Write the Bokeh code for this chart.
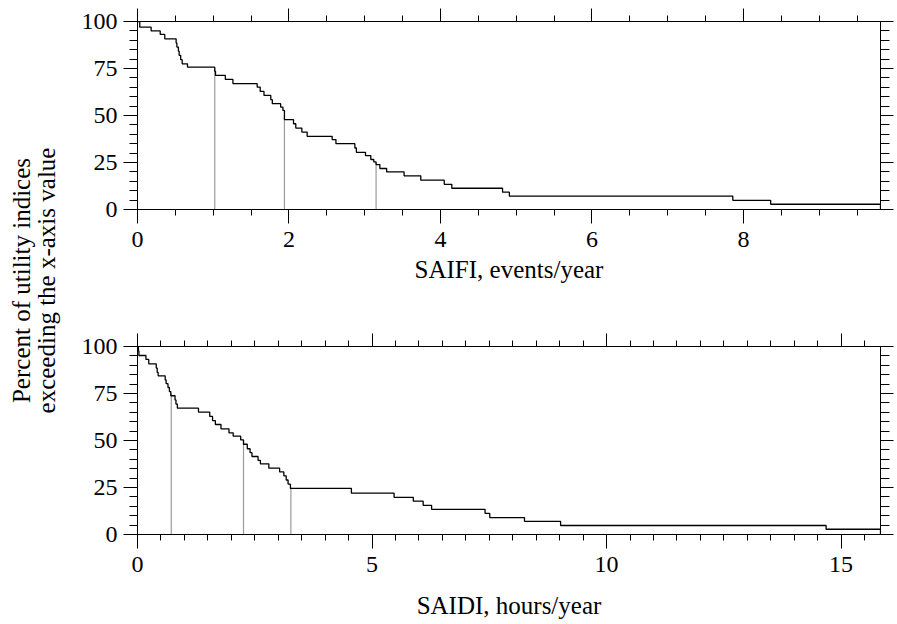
from bokeh.plotting import figure
from bokeh.layouts import row, column
from bokeh.models import Range1d, LinearAxis, SingleIntervalTicker, Label
from bokeh.embed import file_html
from bokeh.resources import INLINE

# ---------------- data ----------------
saifi_x = [0.00, 0.03, 0.18, 0.30, 0.36, 0.51, 0.52, 0.54, 0.55, 0.57,
           0.59, 0.66, 1.02, 1.03, 1.16, 1.26, 1.58, 1.62, 1.67, 1.76,
           1.78, 1.89, 1.92, 1.94, 2.06, 2.09, 2.17, 2.24, 2.57, 2.62,
           2.87, 2.89, 3.01, 3.08, 3.12, 3.15, 3.20, 3.29, 3.52, 3.74,
           4.05, 4.15, 4.82, 4.91, 7.86, 8.36, 9.81]
saifi_pct = [100, 97.0, 95.0, 93.1, 90.8, 88.6, 86.4, 84.2, 82.0, 79.7,
             77.5, 75.7, 73.5, 71.3, 69.2, 67.0, 65.1, 62.8, 60.7, 58.4,
             56.3, 54.5, 52.7, 47.8, 45.6, 43.3, 41.2, 38.9, 37.2, 35.0,
             32.7, 30.4, 28.7, 26.6, 25.3, 23.9, 21.8, 20.0, 17.9, 15.6,
             13.4, 11.3, 9.2, 7.1, 4.9, 2.8, 0]
saifi_quart_x = [1.02, 1.94, 3.15]

saidi_x = [0.00, 0.02, 0.03, 0.18, 0.24, 0.40, 0.42, 0.44, 0.59, 0.61,
           0.65, 0.68, 0.71, 0.80, 0.82, 0.85, 1.30, 1.54, 1.60, 1.66,
           1.78, 1.95, 2.04, 2.20, 2.26, 2.34, 2.40, 2.44, 2.57, 2.62,
           2.80, 3.03, 3.12, 3.17, 3.21, 3.26, 4.56, 5.47, 5.88, 6.09,
           6.27, 7.41, 7.51, 8.25, 9.02, 14.68, 15.84]
saidi_pct = [100, 97.6, 95.2, 93.1, 90.8, 88.5, 86.2, 84.4, 82.3, 80.2,
             78.2, 76.0, 73.8, 71.6, 69.4, 67.2, 65.1, 62.8, 60.6, 58.5,
             56.2, 54.1, 52.3, 50.3, 48.0, 45.6, 43.5, 41.5, 39.4, 37.6,
             35.3, 33.3, 31.2, 29.0, 26.8, 24.5, 22.0, 19.8, 17.7, 15.5,
             13.4, 11.2, 9.0, 7.0, 4.8, 2.8, 0]
saidi_quart_x = [0.72, 2.26, 3.27]

quart_pct = [75, 50, 25]
y_ticks_interval = 25

x_label_top = "SAIFI, events/year"
x_label_bottom = "SAIDI, hours/year"
y_label_lines = ["Percent of utility indices", "exceeding the x-axis value"]

FONT = "Liberation Serif"
TICK_FS = "24px"
TITLE_FS = "25px"


def style_axis(ax, tick_out, minor_out, labels=True):
    ax.axis_line_color = "black"
    ax.axis_line_width = 1
    ax.major_tick_line_color = "black"
    ax.minor_tick_line_color = "black"
    ax.major_tick_in = 0
    ax.minor_tick_in = 0
    ax.major_tick_out = tick_out
    ax.minor_tick_out = minor_out
    ax.major_label_text_font = FONT
    ax.axis_label_text_font = FONT
    ax.axis_label_text_font_style = "normal"
    ax.axis_label_text_font_size = TITLE_FS
    ax.axis_label_text_color = "black"
    if labels:
        ax.major_label_text_font_size = TICK_FS
        ax.major_label_text_color = "black"
    else:
        ax.major_label_text_font_size = "1px"
        ax.major_label_text_color = None
        ax.major_label_standoff = 0


def make_panel(xs, ys, qx, xlabel, x_interval, x_minor, width, height,
               top_border, bottom_border, label_standoff):
    p = figure(width=width, height=height, output_backend="svg",
               toolbar_location=None, x_axis_type=None, y_axis_type=None,
               x_range=Range1d(0, max(xs)), y_range=Range1d(0, 100),
               min_border_left=69, min_border_right=17,
               min_border_top=top_border, min_border_bottom=bottom_border)
    p.grid.visible = False
    p.outline_line_color = "black"
    p.background_fill_color = "white"
    p.border_fill_color = "white"

    xt = SingleIntervalTicker(interval=x_interval, num_minor_ticks=x_minor)
    yt = SingleIntervalTicker(interval=y_ticks_interval, num_minor_ticks=5)

    xb = LinearAxis(ticker=xt, axis_label=xlabel)
    style_axis(xb, 14, 6)
    xb.major_label_standoff = 8
    xb.axis_label_standoff = label_standoff
    p.add_layout(xb, "below")

    xa = LinearAxis(ticker=xt)
    style_axis(xa, 13, 6, labels=False)
    p.add_layout(xa, "above")

    yl = LinearAxis(ticker=yt)
    style_axis(yl, 14, 8)
    yl.major_label_standoff = 6
    p.add_layout(yl, "left")

    yr = LinearAxis(ticker=yt)
    style_axis(yr, 13, 9, labels=False)
    p.add_layout(yr, "right")

    p.segment(x0=qx, y0=[0] * len(qx), x1=qx, y1=quart_pct,
              line_color="#9a9a9a", line_width=1.2)
    p.step(xs, ys, mode="after", line_color="black", line_width=1.3)
    return p


# the Bokeh page has no body margin: content area is 897 x 624
p1 = make_panel(saifi_x, saifi_pct, saifi_quart_x, x_label_top, 2, 4,
                829, 300, 21, 91, 6)
p2 = make_panel(saidi_x, saidi_pct, saidi_quart_x, x_label_bottom, 5, 10,
                829, 324, 46, 90, 17)

# y-axis title shared by both panels
lab = figure(width=68, height=624, output_backend="svg", toolbar_location=None,
             x_axis_type=None, y_axis_type=None,
             x_range=Range1d(0, 68), y_range=Range1d(0, 624),
             min_border=0)
lab.grid.visible = False
lab.outline_line_color = None
for xc, txt in zip([21, 46], y_label_lines):
    lab.add_layout(Label(x=xc, y=344, text=txt, angle=90, angle_units="deg",
                         text_align="center", text_baseline="middle",
                         text_font=FONT, text_font_size=TITLE_FS,
                         text_color="black"))

layout = row(lab, column(p1, p2))

open("out.html", "w").write(file_html(layout, INLINE))
